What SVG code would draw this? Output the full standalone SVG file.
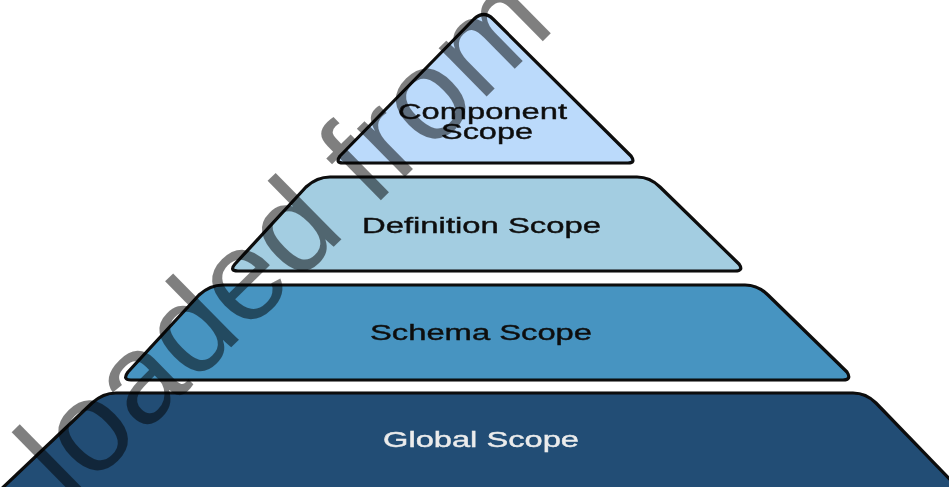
<svg xmlns="http://www.w3.org/2000/svg" width="949" height="487" viewBox="0 0 949 487">
<defs><filter id="soft" x="-5%" y="-5%" width="110%" height="110%"><feGaussianBlur stdDeviation="0.55"/></filter></defs>
<style>
.s{stroke:#0a0a0a;stroke-width:3.2;stroke-linejoin:round}
.t{font-family:"Liberation Sans",Arial,sans-serif;font-size:22px;fill:#111;stroke:#111;stroke-width:.4}
.w{font-family:"Liberation Sans",Arial,sans-serif;font-size:129px;fill:#000;fill-opacity:.5}
g{filter:url(#soft)}
</style>
<rect width="949" height="487" fill="#fff"/>
<g id="component-scope">
<path class="s" fill="#bbdafb" d="M474 19Q484 10 493 19L631 156Q636 163 628 163L343 163Q335 163 340 156Z"/>
<text class="t" x="398" y="119" textLength="169" lengthAdjust="spacingAndGlyphs">Component</text>
<text class="t" x="441" y="139" textLength="92" lengthAdjust="spacingAndGlyphs">Scope</text>
</g>
<g id="definition-scope">
<path class="s" fill="#a3cde1" d="M306 187Q317 177 330 177L637 177Q650 177 660 187L739 264Q744 271 735 271L238 271Q229 271 235 264Z"/>
<text class="t" x="362" y="233" textLength="239" lengthAdjust="spacingAndGlyphs">Definition Scope</text>
</g>
<g id="schema-scope">
<path class="s" fill="#4794c1" d="M199 295Q210 285 223 285L745 285Q758 285 768 295L847 372Q852 380 843 380L131 380Q122 380 128 372Z"/>
<text class="t" x="370" y="340" textLength="222" lengthAdjust="spacingAndGlyphs">Schema Scope</text>
</g>
<g id="global-scope">
<path class="s" fill="#214d75" d="M92 403Q103 393 116 393L853 393Q866 393 876 403L965 495L-5 495Z"/>
<text class="t" x="383" y="447" textLength="196" lengthAdjust="spacingAndGlyphs" style="fill:#ececec;stroke:#ececec">Global Scope</text>
</g>
<text class="w" transform="translate(71 505) rotate(-44.5)">loaded from</text>
</svg>
